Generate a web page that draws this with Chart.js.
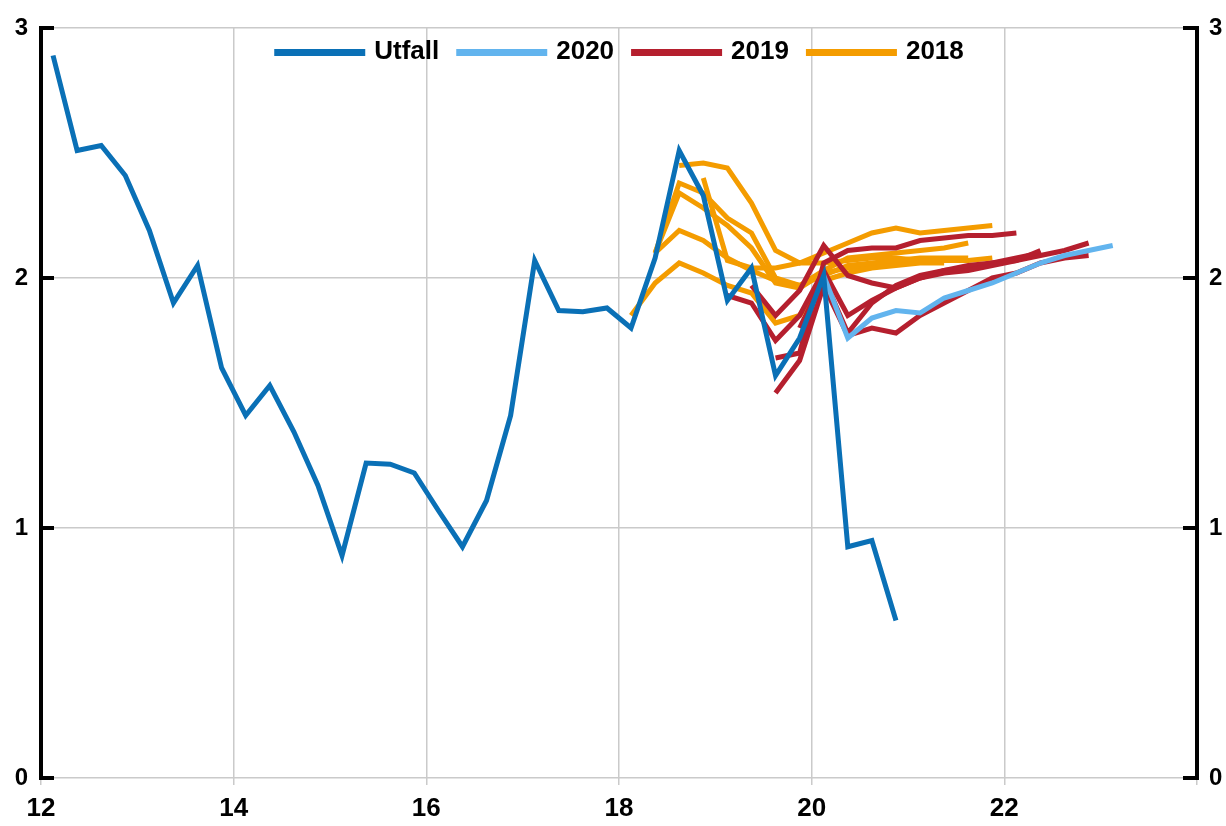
<!DOCTYPE html>
<html lang="sv">
<head>
<meta charset="utf-8">
<title>Utfall och prognoser</title>
<script src="https://cdn.jsdelivr.net/npm/chart.js@4.4.1/dist/chart.umd.min.js"></script>
<style>
  html, body { margin: 0; padding: 0; background: #fff; }
  #wrap { width: 1226px; height: 826px; position: relative; }
</style>
</head>
<body>
<div id="wrap"><canvas id="diagram"></canvas></div>
<script>
// Utfall, kvartalsvis från 2012K1
const utfallStart = '2012K1';
const utfall = [
  2.89, 2.51, 2.53, 2.41, 2.19, 1.90, 2.05, 1.64,
  1.45, 1.57, 1.385, 1.17, 0.89, 1.26, 1.255, 1.22,
  1.07, 0.925, 1.11, 1.45, 2.07, 1.87, 1.865, 1.88,
  1.80, 2.08, 2.51, 2.33, 1.91, 2.04, 1.61, 1.76,
  2.01, 0.925, 0.95, 0.63
];

// Prognoser gjorda 2018 (startkvartal + värden)
const start2018 = ['2018K1', '2018K2', '2018K2', '2018K2', '2018K3', '2018K4'];
const prognos2018 = [
  [1.85, 1.98, 2.06, 2.02, 1.97, 1.94, 1.82, 1.85, 1.99, 2.02, 2.04, 2.05, 2.06, 2.06],
  [2.10, 2.19, 2.15, 2.08, 2.03, 1.99, 1.97, 2.01, 2.05, 2.06, 2.07, 2.08, 2.08, 2.08],
  [2.10, 2.38, 2.34, 2.24, 2.18, 2.00, 1.97, 2.03, 2.08, 2.09, 2.10, 2.11, 2.12, 2.14],
  [2.10, 2.34, 2.28, 2.21, 2.12, 1.98, 1.96, 2.02, 2.04, 2.05, 2.06, 2.07, 2.07, 2.07],
  [2.45, 2.46, 2.44, 2.30, 2.11, 2.06, 2.10, 2.14, 2.18, 2.20, 2.18, 2.19, 2.20, 2.21],
  [2.40, 2.07, 2.04, 2.04, 2.06, 2.06, 2.07, 2.08, 2.08, 2.07, 2.07, 2.07, 2.08]
];

// Prognoser gjorda 2019
const start2019 = ['2019K1', '2019K2', '2019K3', '2019K3', '2019K4'];
const prognos2019 = [
  [1.93, 1.90, 1.75, 1.85, 2.03, 1.85, 1.91, 1.96, 2.00, 2.02, 2.03, 2.05, 2.07, 2.11],
  [1.97, 1.85, 1.95, 2.13, 2.01, 1.98, 1.96, 2.00, 2.03, 2.05, 2.06, 2.07, 2.09, 2.11, 2.14],
  [1.68, 1.70, 2.06, 2.11, 2.12, 2.12, 2.15, 2.16, 2.17, 2.17, 2.18],
  [1.54, 1.67, 1.97, 1.77, 1.80, 1.78, 1.85, 1.90, 1.95, 2.00, 2.02, 2.06, 2.08, 2.09],
  [1.80, 2.00, 1.78, 1.90, 1.97, 2.01, 2.03, 2.04, 2.06, 2.08, 2.10]
];

// Prognos gjord 2020
const start2020 = ['2020K1'];
const prognos2020 = [
  [2.01, 1.76, 1.84, 1.87, 1.86, 1.92, 1.95, 1.98, 2.02, 2.06, 2.09, 2.11, 2.13]
];

const farger = { utfall: '#0a70b6', '2020': '#62b4ee', '2019': '#b51f2e', '2018': '#f49c00' };
const xTicks = [12, 14, 16, 18, 20, 22];
const typsnitt = '"Liberation Sans", Arial, sans-serif';

// kvartal -> x-värde (mitten av kvartalet, år räknat från 2000)
function kvartalX(k) {
  const ar = parseInt(k.slice(0, 4)) - 2000;
  const q = parseInt(k.slice(5));
  return ar + (q - 0.5) / 4;
}

function serie(start, values) {
  const x0 = kvartalX(start);
  return values.map((v, i) => ({ x: x0 + i * 0.25, y: v }));
}

function linje(label, color, data, width) {
  return {
    label: label,
    data: data,
    borderColor: color,
    backgroundColor: color,
    borderWidth: width,
    pointRadius: 0,
    tension: 0,
    fill: false
  };
}

// första dataset ritas överst
const datasets = [linje('Utfall', farger.utfall, serie(utfallStart, utfall), 5)];
prognos2020.forEach((v, i) => datasets.push(linje('2020', farger['2020'], serie(start2020[i], v), 5)));
prognos2019.forEach((v, i) => datasets.push(linje('2019', farger['2019'], serie(start2019[i], v), 5)));
prognos2018.forEach((v, i) => datasets.push(linje('2018', farger['2018'], serie(start2018[i], v), 5)));

// svarta skalstreck som pekar in mot diagrammet
const inreStreck = {
  id: 'inreStreck',
  afterDraw(chart) {
    const ctx = chart.ctx;
    const { left, right } = chart.chartArea;
    const y = chart.scales.y;
    ctx.save();
    ctx.strokeStyle = '#000';
    ctx.lineWidth = 4;
    y.ticks.forEach(t => {
      const py = y.getPixelForValue(t.value);
      ctx.beginPath();
      ctx.moveTo(left - 2, py);
      ctx.lineTo(left + 13, py);
      ctx.moveTo(right + 2, py);
      ctx.lineTo(right - 14, py);
      ctx.stroke();
    });
    ctx.restore();
  }
};

// förklaring på en rad inne i diagramytan, en post per serienamn
const forklaring = {
  id: 'forklaring',
  afterDraw(chart) {
    const ctx = chart.ctx;
    const area = chart.chartArea;
    const sett = new Set();
    const poster = [];
    chart.data.datasets.forEach(ds => {
      if (!sett.has(ds.label)) {
        sett.add(ds.label);
        poster.push({ text: ds.label, color: ds.borderColor });
      }
    });
    const streck = 91, lucka = 9, mellan = 17;
    ctx.save();
    ctx.font = 'bold 26px ' + typsnitt;
    ctx.textBaseline = 'middle';
    ctx.textAlign = 'left';
    const bredder = poster.map(p => streck + lucka + ctx.measureText(p.text).width);
    const total = bredder.reduce((a, b) => a + b, 0) + mellan * (poster.length - 1);
    let x = (area.left + area.right) / 2 - total / 2;
    const y = area.top + 24;
    poster.forEach((p, i) => {
      ctx.fillStyle = p.color;
      ctx.fillRect(x, y - 3, streck, 7);
      ctx.fillStyle = '#000';
      ctx.fillText(p.text, x + streck + lucka, y);
      x += bredder[i] + mellan;
    });
    ctx.restore();
  }
};

const grid = '#cacaca';
const fet = (size) => ({ family: typsnitt, size: size, weight: 'bold' });

new Chart(document.getElementById('diagram'), {
  type: 'line',
  data: { datasets: datasets },
  options: {
    responsive: true,
    maintainAspectRatio: false,
    animation: false,
    layout: { padding: { top: 28, left: 0, right: 0, bottom: 0 } },
    plugins: {
      tooltip: { enabled: false },
      legend: { display: false }
    },
    scales: {
      x: {
        type: 'linear',
        min: 12,
        max: 24,
        afterFit(scale) { scale.height = 48; },
        afterBuildTicks(scale) { scale.ticks = xTicks.concat([24]).map(v => ({ value: v })); },
        ticks: {
          color: '#000',
          font: fet(26),
          padding: 8,
          maxRotation: 0,
          autoSkip: false,
          callback: v => (xTicks.includes(v) ? String(v) : '')
        },
        grid: { color: grid, lineWidth: 1.5, drawTicks: true, tickLength: 7 },
        border: { display: false }
      },
      y: {
        position: 'left',
        min: 0,
        max: 3,
        afterFit(scale) { scale.width = 41; },
        ticks: { stepSize: 1, color: '#000', font: fet(24), padding: 13 },
        grid: { color: grid, lineWidth: 1.5, drawTicks: false },
        border: { display: true, color: '#000', width: 4 }
      },
      y2: {
        position: 'right',
        min: 0,
        max: 3,
        afterFit(scale) { scale.width = 29; },
        ticks: { stepSize: 1, color: '#000', font: fet(24), padding: 12 },
        grid: { display: false, drawTicks: false },
        border: { display: true, color: '#000', width: 4 }
      }
    }
  },
  plugins: [inreStreck, forklaring]
});
</script>
</body>
</html>
